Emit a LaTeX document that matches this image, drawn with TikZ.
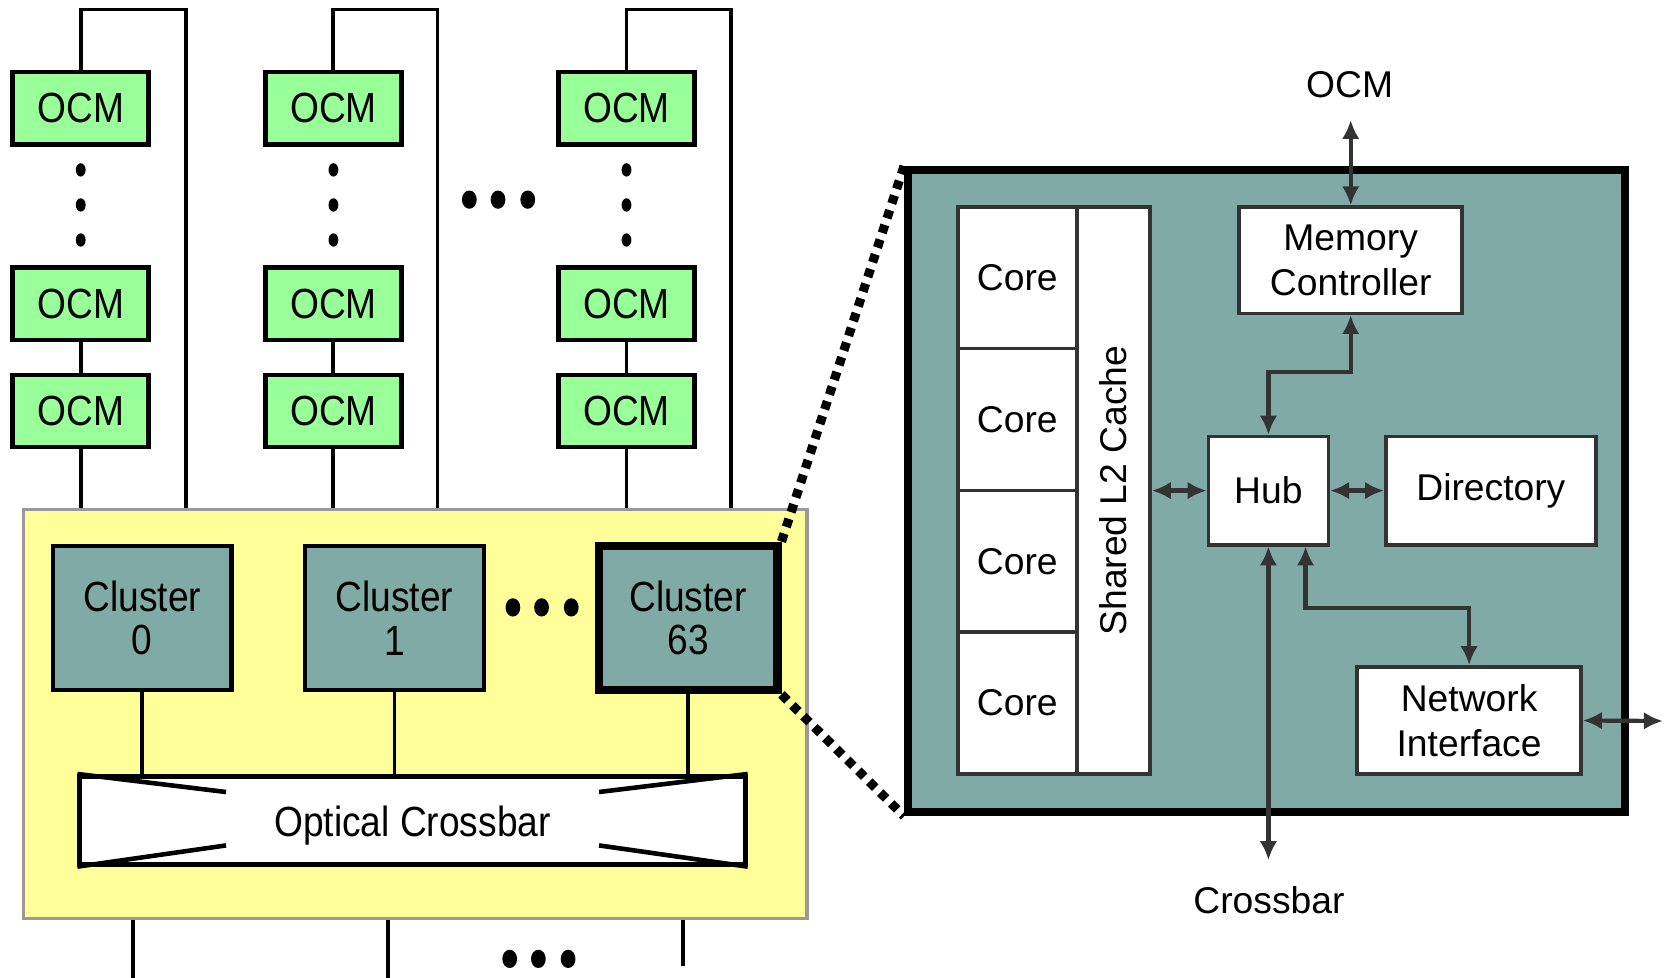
\documentclass[tikz,border=0pt]{standalone}
\usepackage{fontspec}
\setmainfont{Liberation Sans}
\newfontfamily\narrowsf[FakeStretch=0.88]{Liberation Sans}
\usetikzlibrary{arrows.meta,calc}
\definecolor{ocmgreen}{HTML}{99FF99}
\definecolor{tealfill}{HTML}{80AAA6}
\definecolor{padyellow}{HTML}{FFFF99}
\definecolor{padgray}{HTML}{999999}
\definecolor{darkline}{HTML}{333333}
\def\pxu{0.010619cm}
\tikzset{
%Define standard arrow tip
>={Latex[length=5.4pt,width=5pt]},
%Define styles for the boxes and lines
left text/.style={font=\narrowsf\fontsize{12}{12.4}\selectfont},
right text/.style={font=\fontsize{10.6}{12.7}\selectfont},
ocm/.style={draw, line width=1.3pt, fill=ocmgreen, inner sep=0pt,
  minimum width=128*\pxu, minimum height=68*\pxu, left text},
cluster/.style={draw, line width=1.2pt, fill=tealfill, inner sep=0pt, align=center,
  minimum width=168*\pxu, minimum height=136*\pxu, left text},
inner box/.style={draw=darkline, line width=1pt, fill=white, inner sep=0pt,
  align=center, right text},
link/.style={line width=1.1pt},
dual/.style={<->, darkline, line width=1.2pt},
zoom line/.style={line width=2.6pt, dash pattern=on 2.4pt off 2pt},
}

\begin{document}
\begin{tikzpicture}[x=\pxu, y=-\pxu]
    \useasboundingbox (0,0) rectangle (1568,921);

    % Chip with the clusters
    \node[draw=padgray, line width=1pt, fill=padyellow, minimum width=738*\pxu,
      minimum height=385*\pxu, inner sep=0pt] (chip) at (391,672.5) {};

    % Memory columns
    \foreach \x/\r/\n in {76/175/a, 314/412/b, 590/688/c} {
      \node[ocm] (\n1) at (\x,102) {OCM};
      \node[ocm] (\n2) at (\x,286) {OCM};
      \node[ocm] (\n3) at (\x,387) {OCM};
      \draw[link] (\n2) -- (\n3);
      \draw[link] (\n3.south) -- (\n3.south |- chip.north);
      \draw[link] (\n1.north) |- (\r,9) -- (\r,9 |- chip.north);
      \foreach \y in {160,193,226}
        \fill (\x,\y) ellipse [x radius=1.4pt, y radius=1.9pt];
    }
    \foreach \x in {442,469,497}
      \fill (\x,188) ellipse [x radius=2.1pt, y radius=2.6pt];

    % Clusters
    \node[cluster] (c0) at (134,582) {Cluster\\0};
    \node[cluster] (c1) at (371.5,582) {Cluster\\1};
    \node[cluster, line width=2.4pt] (c63) at (648,582) {Cluster\\63};
    \foreach \x in {483,510,538}
      \fill (\x,572) ellipse [x radius=2.1pt, y radius=2.6pt];

    % Crossbar
    \node[draw, line width=1.3pt, fill=white, inner sep=0pt, minimum width=627*\pxu,
      minimum height=83*\pxu, left text] (xbar) at (388.5,772.5)
      {\raisebox{-1.4pt}[\height][\depth]{Optical Crossbar}};
    \draw[line width=1.3pt]
      (xbar.north west) -- ++(140,17)
      (xbar.south west) -- ++(140,-20)
      (xbar.north east) -- ++(-140,17)
      (xbar.south east) -- ++(-140,-20);
    \foreach \c in {c0,c1,c63}
      \draw[link] (\c.south) -- (\c.south |- xbar.north);

    % Links leaving the chip
    \draw[link] (125,0 |- chip.south) -- (125,921)
      (365,0 |- chip.south) -- (365,921)
      (643,0 |- chip.south) -- (643,910);
    \foreach \x in {480,507,535}
      \fill (\x,903) ellipse [x radius=2.1pt, y radius=2.6pt];

    % Cluster detail
    \node[draw, line width=2.2pt, fill=tealfill, inner sep=0pt, minimum width=675*\pxu,
      minimum height=605*\pxu] (tile) at (1192.5,462.5) {};
    \draw[zoom line] (c63.north east) -- (tile.north west)
      (c63.south east) -- (tile.south west);

    \foreach \y [count=\i] in {261.5,395,528.5,662}
      \node[inner box, minimum width=112*\pxu, minimum height=133.5*\pxu]
        (core\i) at (958,\y) {Core};
    \node[inner box, minimum width=69*\pxu, minimum height=534*\pxu] (l2) at (1048.5,462) {};
    \node[rotate=90, right text] at (l2) {Shared L2 Cache};

    \node[inner box, minimum width=210*\pxu, minimum height=100*\pxu]
      (mc) at (1272,245) {Memory\\Controller};
    \node[inner box, minimum width=113*\pxu, minimum height=102*\pxu]
      (hub) at (1194.5,462) {Hub};
    \node[inner box, minimum width=198*\pxu, minimum height=102*\pxu]
      (dir) at (1404,462) {Directory};
    \node[inner box, minimum width=211*\pxu, minimum height=101*\pxu]
      (ni) at (1383.5,678.5) {Network\\Interface};

    % Outside labels
    \node[right text] (ocmlab) at (1271,80) {OCM};
    \node[right text] (xlab) at (1195,848) {Crossbar};
    \coordinate (ocm in) at (1272,113);
    \coordinate (xbar in) at (1194.5,810);
    \coordinate (ni out) at (1566,679);

    % Connections
    \draw[dual] (mc.north) -- (ocm in);
    \draw[dual] (l2.east) -- (hub.west);
    \draw[dual] (hub.east) -- (dir.west);
    \draw[dual] (hub.north) -- ++(0,-59) -| (mc.south);
    \draw[dual] ($(hub.south)+(35,0)$) -- ++(0,58) -| (ni.north);
    \draw[dual] (hub.south) -- (xbar in);
    \draw[dual] (ni.east) -- (ni out);
\end{tikzpicture}
\end{document}
